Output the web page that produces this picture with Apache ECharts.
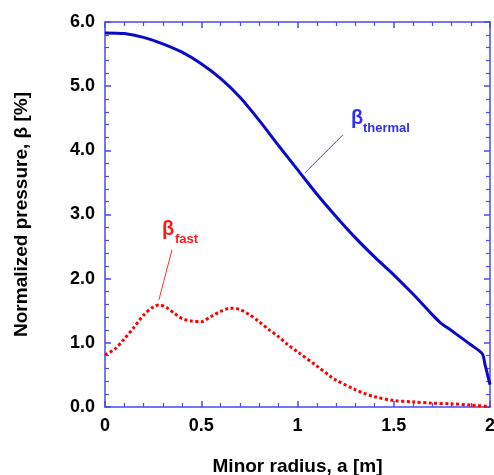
<!DOCTYPE html>
<html>
<head>
<meta charset="utf-8">
<script src="https://cdn.jsdelivr.net/npm/echarts@6/dist/echarts.min.js"></script>
<style>
  html, body { margin: 0; padding: 0; background: #fff; }
  #chart { width: 494px; height: 475px; }
</style>
</head>
<body>
<div id="chart"></div>
<script>
// minor radius samples [m] and normalized pressure [%]
var thermalX = [0, 0.1, 0.2, 0.3, 0.4, 0.5, 0.6, 0.7, 0.8, 0.9, 1.0, 1.1, 1.2, 1.3, 1.4, 1.5, 1.6, 1.7, 1.74, 1.8, 1.9, 1.96, 1.975, 1.99, 2.0];
var thermalY = [5.83, 5.82, 5.76, 5.66, 5.53, 5.35, 5.12, 4.83, 4.47, 4.08, 3.70, 3.32, 2.97, 2.64, 2.34, 2.06, 1.76, 1.44, 1.32, 1.19, 0.97, 0.83, 0.65, 0.47, 0.35];

var fastX = [0, 0.05, 0.1, 0.15, 0.2, 0.25, 0.28, 0.32, 0.36, 0.4, 0.45, 0.5, 0.55, 0.6, 0.65, 0.7, 0.75, 0.8, 0.85, 0.9, 0.95, 1.0, 1.1, 1.17, 1.2, 1.3, 1.34, 1.4, 1.5, 1.6, 1.7, 1.8, 1.9, 2.0];
var fastY = [0.81, 0.9, 1.06, 1.24, 1.43, 1.56, 1.59, 1.55, 1.46, 1.38, 1.34, 1.33, 1.41, 1.49, 1.54, 1.52, 1.44, 1.33, 1.21, 1.1, 0.97, 0.86, 0.64, 0.48, 0.42, 0.27, 0.22, 0.16, 0.1, 0.08, 0.06, 0.05, 0.03, 0.01];

// leader lines for the labels, in data coordinates
var thermalLeader = [[1.236, 4.24], [1.039, 3.65]];
var fastLeader = [[0.348, 2.45], [0.28, 1.67]];

function pairs(xs, ys) {
    return xs.map(function (x, i) { return [x, ys[i]]; });
}

var axisBlue = '#4a4aee';
var fontFam = 'Liberation Sans, Arial';
var labelFont = { color: '#000', fontFamily: fontFam, fontWeight: 'bold', fontSize: 18 };
var nameFont = { color: '#000', fontFamily: fontFam, fontWeight: 'bold', fontSize: 19 };

// one frame side: line + inward ticks, optionally with labels
function frameAxis(extra) {
    return Object.assign({
        type: 'value',
        axisLine: { show: true, onZero: false, lineStyle: { color: axisBlue, width: 1.5 } },
        axisTick: { show: true, inside: true, length: 6, lineStyle: { color: axisBlue, width: 1.5 } },
        minorTick: { show: true, splitNumber: 5, length: 4, lineStyle: { color: axisBlue, width: 1.2 } },
        axisLabel: { show: false },
        splitLine: { show: false }
    }, extra);
}

var dom = document.getElementById('chart');
var myChart = echarts.init(dom);

var option = {
    animation: false,
    backgroundColor: '#fff',
    grid: { left: 105, right: 4, top: 22, bottom: 68, containLabel: false, outerBoundsMode: 'none' },
    xAxis: [
        frameAxis({
            min: 0, max: 2, interval: 0.5, position: 'bottom',
            name: 'Minor radius, a [m]', nameLocation: 'middle', nameGap: 50, nameTextStyle: nameFont,
            axisLabel: Object.assign({ margin: 10 }, labelFont)
        }),
        frameAxis({ min: 0, max: 2, interval: 0.5, position: 'top' })
    ],
    yAxis: [
        frameAxis({
            min: 0, max: 6, interval: 1, position: 'left',
            name: 'Normalized pressure, β [%]', nameLocation: 'middle', nameGap: 74, nameTextStyle: nameFont,
            axisLabel: Object.assign({ margin: 10, formatter: function (v) { return v.toFixed(1); } }, labelFont)
        }),
        frameAxis({ min: 0, max: 6, interval: 1, position: 'right' })
    ],
    series: [{
        name: 'thermal', type: 'line', smooth: 0.25, showSymbol: false,
        data: pairs(thermalX, thermalY),
        lineStyle: { color: '#0a0ac8', width: 3 },
        markLine: {
            silent: true, symbol: 'none', label: { show: false },
            lineStyle: { color: '#4a4aee', width: 1, type: 'solid' },
            data: [[{ coord: thermalLeader[0] }, { coord: thermalLeader[1] }]]
        }
    }, {
        name: 'fast', type: 'line', smooth: 0.3, showSymbol: false,
        data: pairs(fastX, fastY),
        lineStyle: { color: '#ff0000', width: 3, type: [3, 2.5], cap: 'butt' },
        markLine: {
            silent: true, symbol: 'none', label: { show: false },
            lineStyle: { color: '#ff3030', width: 1, type: 'solid' },
            data: [[{ coord: fastLeader[0] }, { coord: fastLeader[1] }]]
        }
    }],
    graphic: [
        { type: 'text', left: 351, top: 108, style: { text: 'β', fill: '#3030f0', font: 'bold 20px Liberation Sans, Arial' } },
        { type: 'text', left: 363, top: 122, style: { text: 'thermal', fill: '#3030f0', font: 'bold 13px Liberation Sans, Arial' } },
        { type: 'text', left: 162, top: 219, style: { text: 'β', fill: '#ff1a1a', font: 'bold 20px Liberation Sans, Arial' } },
        { type: 'text', left: 175, top: 233, style: { text: 'fast', fill: '#ff1a1a', font: 'bold 13px Liberation Sans, Arial' } }
    ]
};

myChart.setOption(option);
window.addEventListener('resize', function () { myChart.resize(); });
</script>
</body>
</html>
